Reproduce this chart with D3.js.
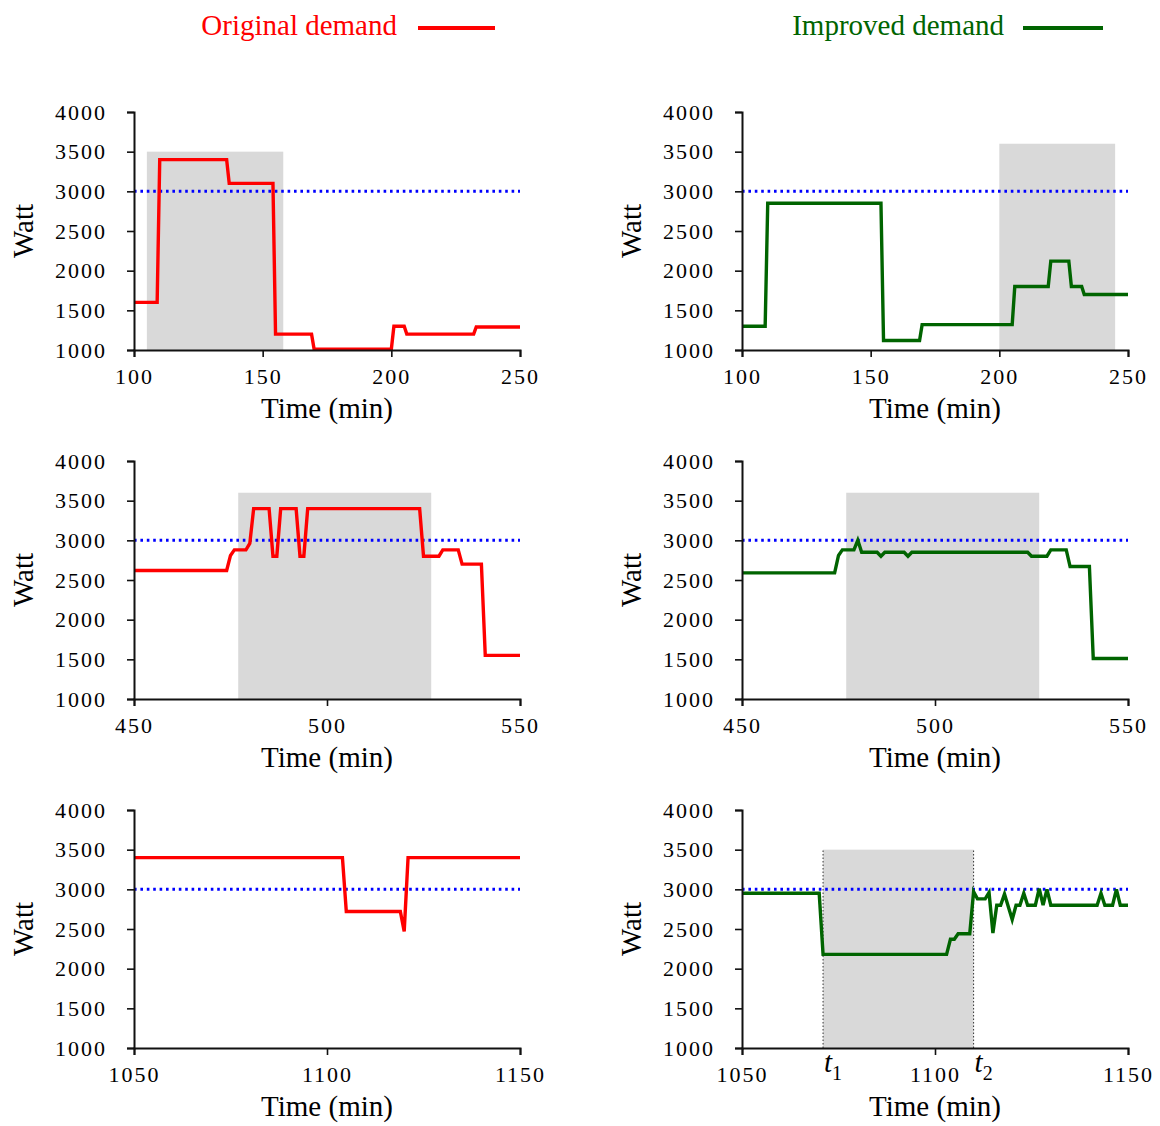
<!DOCTYPE html>
<html>
<head>
<meta charset="utf-8">
<script src="https://cdn.jsdelivr.net/npm/d3@7"></script>
<style>
  body { margin: 0; background: #fff; }
  svg text { font-family: "Liberation Serif", "DejaVu Serif", serif; }
</style>
</head>
<body>
<svg id="chart" width="1160" height="1126"></svg>
<script>
// demand series, [minute, watt]
const origTop = [[100,1600],[109,1600],[110,3400],[136,3400],[137,3100],[154,3100],[155,1200],[169,1200],[170,1010],[200,1010],[201,1300],[205,1300],[206,1200],[232,1200],[233,1290],[250,1290]];
const imprTop = [[100,1300],[109,1300],[110,2850],[154,2850],[155,1120],[169,1120],[170,1320],[205,1320],[206,1800],[219,1800],[220,2120],[227,2120],[228,1800],[232,1800],[233,1700],[250,1700]];
const origMid = [[450,2620],[474,2620],[475,2810],[476,2880],[479,2880],[480,2960],[481,3400],[485,3400],[486,2800],[487,2800],[488,3400],[492,3400],[493,2800],[494,2800],[495,3400],[524,3400],[525,2800],[529,2800],[530,2880],[534,2880],[535,2700],[540,2700],[541,1550],[550,1550]];
const imprMid = [[450,2590],[474,2590],[475,2810],[476,2880],[479,2880],[480,3000],[481,2850],[485,2850],[486,2800],[487,2850],[492,2850],[493,2800],[494,2850],[524,2850],[525,2800],[529,2800],[530,2880],[534,2880],[535,2670],[540,2670],[541,1510],[550,1510]];
const origBot = [[1050,3400],[1104,3400],[1105,2720],[1119,2720],[1120,2470],[1121,3400],[1150,3400]];
const imprBot = [[1050,2950],[1070,2950],[1071,2180],[1103,2180],[1104,2370],[1105,2370],[1106,2440],[1109,2440],[1110,2970],[1111,2880],[1113,2880],[1114,2960],[1115,2450],[1116,2800],[1117,2800],[1118,2940],[1120,2620],[1121,2800],[1122,2800],[1123,2950],[1124,2800],[1126,2800],[1127,3010],[1128,2800],[1129,3000],[1130,2800],[1142,2800],[1143,2950],[1144,2800],[1146,2800],[1147,3000],[1148,2800],[1150,2800]];

// shaded windows: [from, to, top watt]
const shadeOrigTop = [105, 158, 3500];
const shadeImprTop = [200, 245, 3600];
const shadeOrigMid = [477, 527, 3600];
const shadeImprMid = [477, 527, 3600];
const shadeImprBot = [1071, 1110, 3500];

const xDomains = [[100, 250], [450, 550], [1050, 1150]];
const xTicks = [[100, 150, 200, 250], [450, 500, 550], [1050, 1100, 1150]];
const yTicks = [1000, 1500, 2000, 2500, 3000, 3500, 4000];
const threshold = 3000;
const legendLabels = ['Original demand', 'Improved demand'];

const RED = '#ff0000', GREEN = '#006400';
const SERIF = '"Liberation Serif", "DejaVu Serif", serif';

const svg = d3.select('#chart');

const colX = [134, 742];
const rowY = [112, 461, 810];
const plotW = 386, plotH = 238;

const panels = [
  {row: 0, col: 0, data: origTop, shade: shadeOrigTop, color: RED},
  {row: 0, col: 1, data: imprTop, shade: shadeImprTop, color: GREEN},
  {row: 1, col: 0, data: origMid, shade: shadeOrigMid, color: RED},
  {row: 1, col: 1, data: imprMid, shade: shadeImprMid, color: GREEN},
  {row: 2, col: 0, data: origBot, shade: null, color: RED},
  {row: 2, col: 1, data: imprBot, shade: shadeImprBot, color: GREEN, marks: true}
];

panels.forEach(p => {
  const g = svg.append('g')
    .attr('transform', 'translate(' + colX[p.col] + ',' + rowY[p.row] + ')');

  const x = d3.scaleLinear().domain(xDomains[p.row]).range([0, plotW]);
  const y = d3.scaleLinear().domain([1000, 4000]).range([plotH, 0]);

  if (p.shade) {
    g.append('rect')
      .attr('x', x(p.shade[0]))
      .attr('y', y(p.shade[2]))
      .attr('width', x(p.shade[1]) - x(p.shade[0]))
      .attr('height', y(1000) - y(p.shade[2]))
      .attr('fill', '#d9d9d9');
    if (p.marks) {
      [p.shade[0], p.shade[1]].forEach(t => {
        g.append('line')
          .attr('x1', x(t)).attr('x2', x(t))
          .attr('y1', y(1000)).attr('y2', y(p.shade[2]))
          .attr('stroke', '#333')
          .attr('stroke-width', 1)
          .attr('stroke-dasharray', '1.5,2');
      });
    }
  }

  // threshold
  g.append('line')
    .attr('x1', 0).attr('x2', plotW)
    .attr('y1', y(threshold)).attr('y2', y(threshold))
    .attr('stroke', '#0000ff')
    .attr('stroke-width', 3)
    .attr('stroke-dasharray', '2.6,3.8');

  const line = d3.line()
    .x(d => x(d[0]))
    .y(d => y(d[1]));

  g.append('path')
    .datum(p.data)
    .attr('d', line)
    .attr('fill', 'none')
    .attr('stroke', p.color)
    .attr('stroke-width', 3.4)
    .attr('stroke-linejoin', 'miter');

  const yAxis = g.append('g')
    .call(d3.axisLeft(y).tickValues(yTicks).tickSize(7).tickPadding(20).tickFormat(d3.format('d')));
  const xAxis = g.append('g')
    .attr('transform', 'translate(0,' + plotH + ')')
    .call(d3.axisBottom(x).tickValues(xTicks[p.row]).tickSize(7).tickPadding(11).tickFormat(d3.format('d')));

  [yAxis, xAxis].forEach(a => {
    a.attr('font-family', SERIF);
    a.select('.domain').attr('stroke', '#111').attr('stroke-width', 2);
    a.selectAll('.tick line').attr('stroke', '#111').attr('stroke-width', 1.6);
    a.selectAll('.tick text')
      .attr('fill', '#000')
      .style('font-family', SERIF)
      .style('font-size', '22px')
      .style('letter-spacing', '2px');
  });

  if (p.marks) {
    [['t', '1', p.shade[0]], ['t', '2', p.shade[1]]].forEach(m => {
      const t = g.append('text')
        .attr('x', x(m[2]) + 1)
        .attr('y', plotH + 24)
        .attr('text-anchor', 'start')
        .style('font-size', '29px')
        .style('font-style', 'italic');
      t.append('tspan').text(m[0]);
      t.append('tspan').attr('dy', 8).style('font-size', '20px').style('font-style', 'normal').text(m[1]);
    });
  }

  g.append('text')
    .attr('x', plotW / 2)
    .attr('y', plotH + 68)
    .attr('text-anchor', 'middle')
    .style('font-size', '29px')
    .text('Time (min)');

  g.append('text')
    .attr('transform', 'translate(' + (-101) + ',' + (plotH / 2) + ') rotate(-90)')
    .attr('text-anchor', 'middle')
    .style('font-size', '29px')
    .text('Watt');
});

// legend
const legend = [
  {label: legendLabels[0], color: RED, tx: 397, lx: [418, 495]},
  {label: legendLabels[1], color: GREEN, tx: 1004, lx: [1023, 1103]}
];
legend.forEach(l => {
  svg.append('text')
    .attr('x', l.tx)
    .attr('y', 35)
    .attr('text-anchor', 'end')
    .attr('fill', l.color)
    .style('font-size', '29px')
    .text(l.label);
  svg.append('line')
    .attr('x1', l.lx[0]).attr('x2', l.lx[1])
    .attr('y1', 28).attr('y2', 28)
    .attr('stroke', l.color)
    .attr('stroke-width', 4);
});
</script>
</body>
</html>
